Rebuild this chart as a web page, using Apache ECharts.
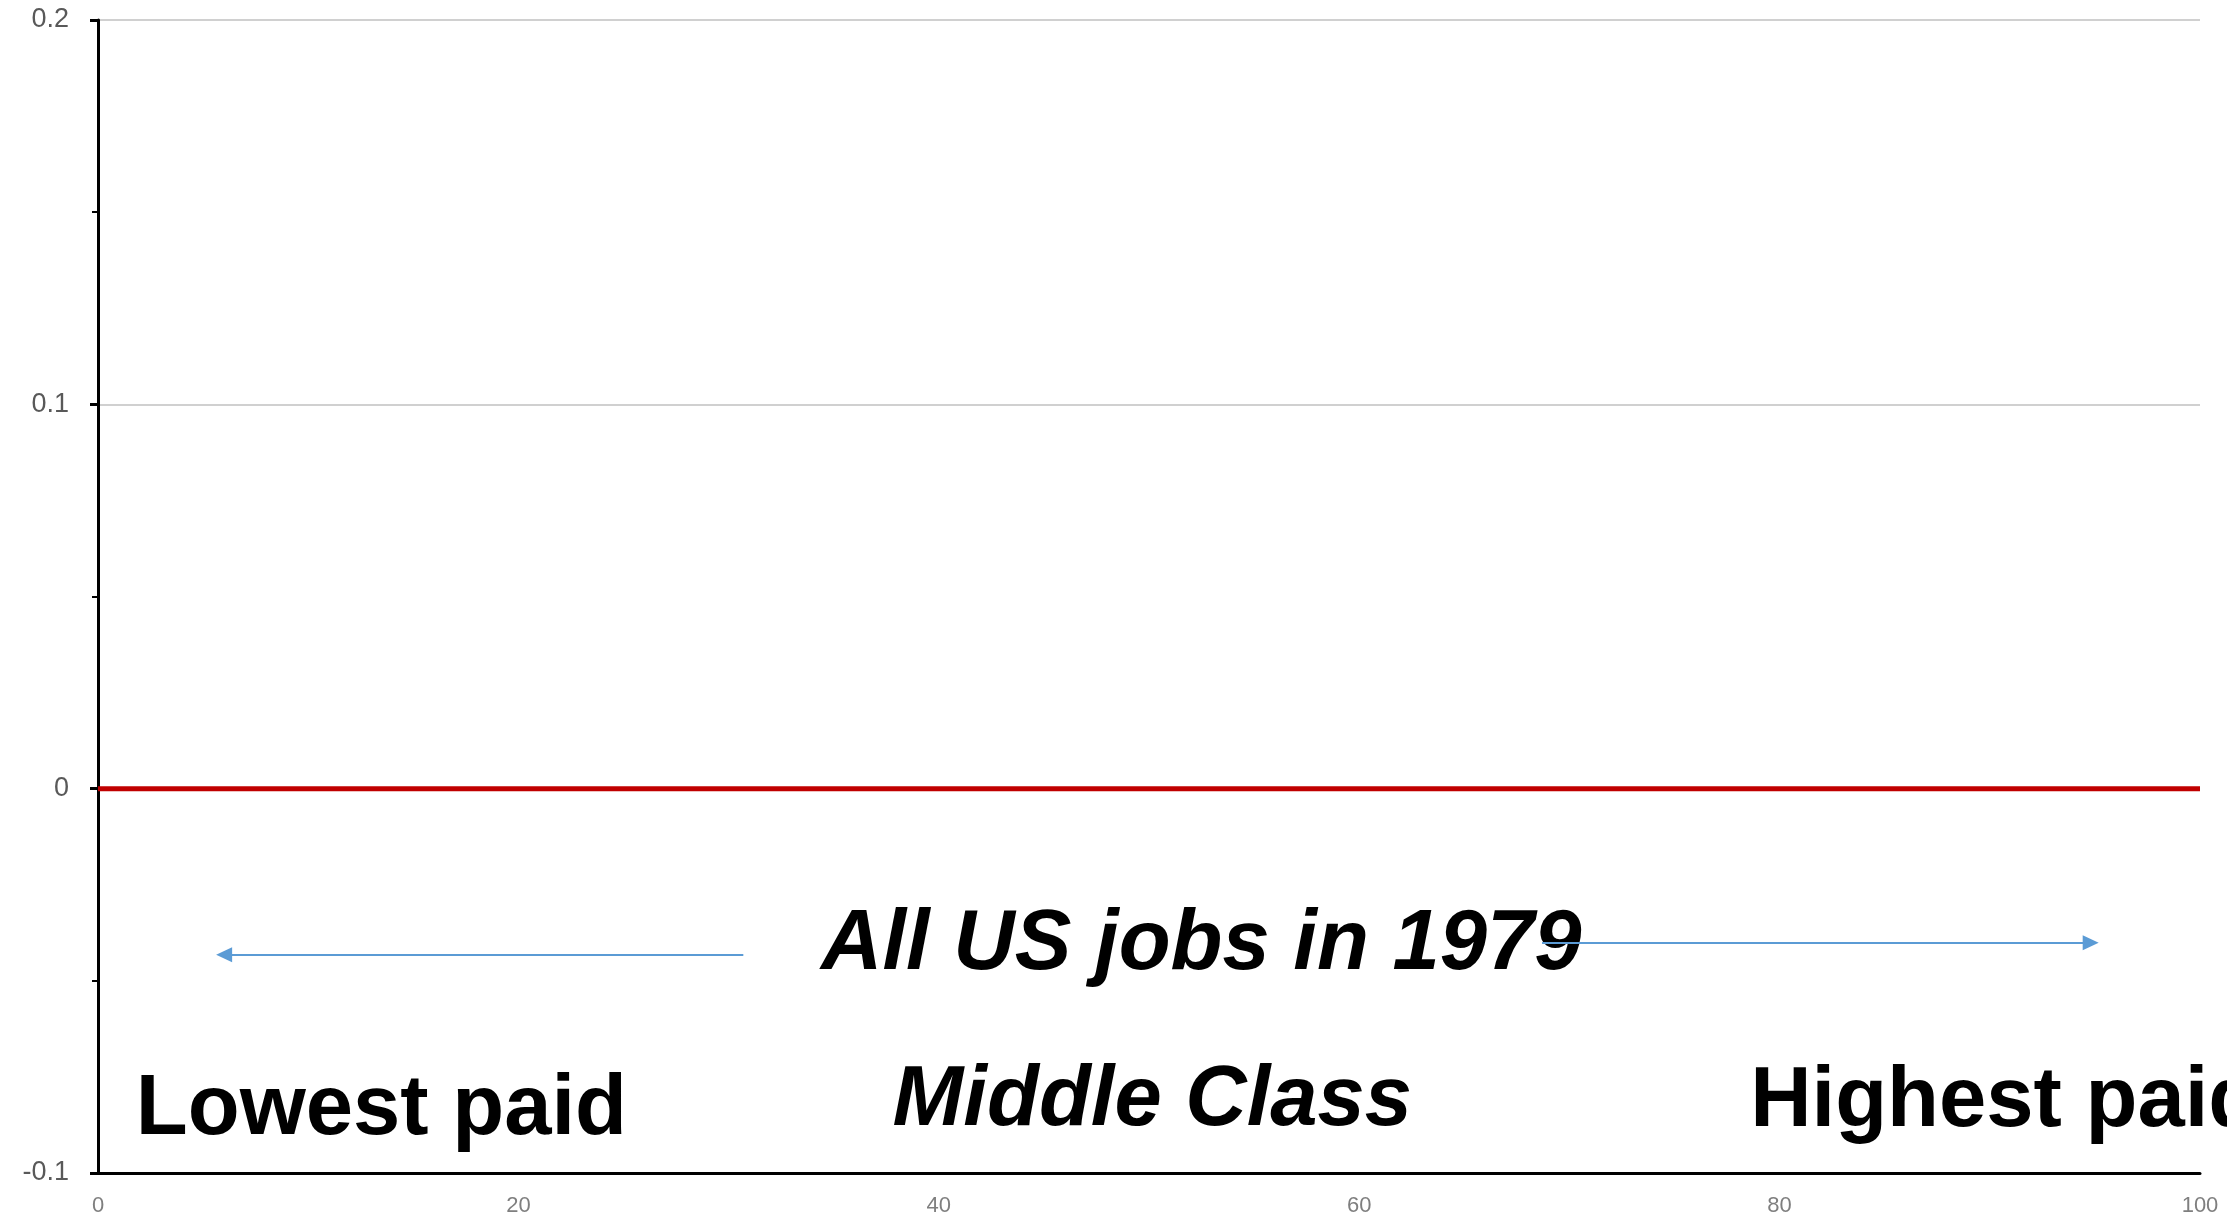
<!DOCTYPE html>
<html>
<head>
<meta charset="utf-8">
<title>All US jobs in 1979</title>
<script src="https://cdn.jsdelivr.net/npm/echarts@6/dist/echarts.min.js"></script>
<style>
    html, body {
        margin: 0;
        padding: 0;
        background: #ffffff;
    }

    #chartDiv {
        width: 2227px;
        height: 1218px;
    }
</style>
</head>
<body>
<div id="chartDiv"></div>
<script>
// job percentile (x) and change (y) of the red line
const percentiles = [0, 100];
const changes = [0, 0];

// axis ticks
const xTicks = [0, 20, 40, 60, 80, 100];
const yTicks = [-0.1, 0, 0.1, 0.2];

// annotation texts: [x, y, text]
const labelPoints = [
    [34.4, -0.0408, 'All US jobs in 1979'],
    [1.8, -0.0838, 'Lowest paid'],
    [37.8, -0.0813, 'Middle Class'],
    [78.6, -0.0818, 'Highest paid']
];

// arrows: [fromX, fromY, toX, toY]
const arrows = [
    [30.7, -0.0432, 6.0, -0.0432],
    [68.7, -0.0401, 94.8, -0.0401]
];

const chartDom = document.getElementById('chartDiv');
const chart = echarts.init(chartDom);

const bigFont = 'Liberation Sans, Arial, sans-serif';
const italicTexts = ['All US jobs in 1979', 'Middle Class'];

const option = {
    animation: false,
    backgroundColor: '#ffffff',
    grid: {
        left: 98,
        right: 27,
        top: 20,
        bottom: 45,
        containLabel: false
    },
    xAxis: {
        type: 'value',
        min: xTicks[0],
        max: xTicks[xTicks.length - 1],
        interval: 20,
        axisLine: {
            show: true,
            onZero: false,
            lineStyle: { color: '#000000', width: 3 }
        },
        axisTick: { show: false },
        splitLine: { show: false },
        axisLabel: {
            color: '#7f7f7f',
            fontSize: 22,
            fontFamily: 'Liberation Sans, Arial, sans-serif',
            margin: 22
        }
    },
    yAxis: {
        type: 'value',
        min: yTicks[0],
        max: yTicks[yTicks.length - 1],
        interval: 0.1,
        axisLine: {
            show: true,
            onZero: false,
            lineStyle: { color: '#000000', width: 3 }
        },
        axisTick: {
            show: true,
            inside: false,
            length: 8,
            lineStyle: { color: '#000000', width: 3 }
        },
        minorTick: {
            show: true,
            splitNumber: 2,
            length: 6,
            lineStyle: { color: '#000000', width: 2 }
        },
        splitLine: {
            show: true,
            lineStyle: { color: '#d0d0d0', width: 2 }
        },
        axisLabel: {
            color: '#595959',
            fontSize: 27,
            fontFamily: 'Liberation Sans, Arial, sans-serif',
            margin: 29,
            formatter: (v) => String(Math.round(v * 10) / 10)
        }
    },
    series: [
        {
            // red zero line
            name: 'change',
            type: 'line',
            data: percentiles.map((x, i) => [x, changes[i]]),
            showSymbol: false,
            symbol: 'none',
            lineStyle: { color: '#c00000', width: 5 },
            z: 3
        },
        {
            // blue arrows
            name: 'arrows',
            type: 'line',
            data: [],
            markLine: {
                silent: true,
                animation: false,
                symbol: ['none', 'triangle'],
                symbolSize: [15, 16],
                label: { show: false },
                lineStyle: { color: '#5b9bd5', width: 2, type: 'solid' },
                itemStyle: { color: '#5b9bd5' },
                data: arrows.map((a) => [
                    { coord: [a[0], a[1]] },
                    { coord: [a[2], a[3]] }
                ])
            },
            z: 4
        },
        {
            // big annotation texts
            name: 'labels',
            type: 'scatter',
            symbolSize: 0,
            silent: true,
            itemStyle: { color: '#000000', opacity: 1 },
            data: labelPoints.map((p) => ({
                value: [p[0], p[1]],
                label: {
                    show: true,
                    position: 'inside',
                    align: 'left',
                    verticalAlign: 'middle',
                    formatter: p[2],
                    color: '#000000',
                    opacity: 1,
                    textBorderWidth: 0,
                    fontSize: 85,
                    fontWeight: 'bold',
                    fontStyle: italicTexts.includes(p[2]) ? 'italic' : 'normal',
                    fontFamily: bigFont
                }
            })),
            z: 2
        }
    ]
};

chart.setOption(option);
</script>
</body>
</html>
